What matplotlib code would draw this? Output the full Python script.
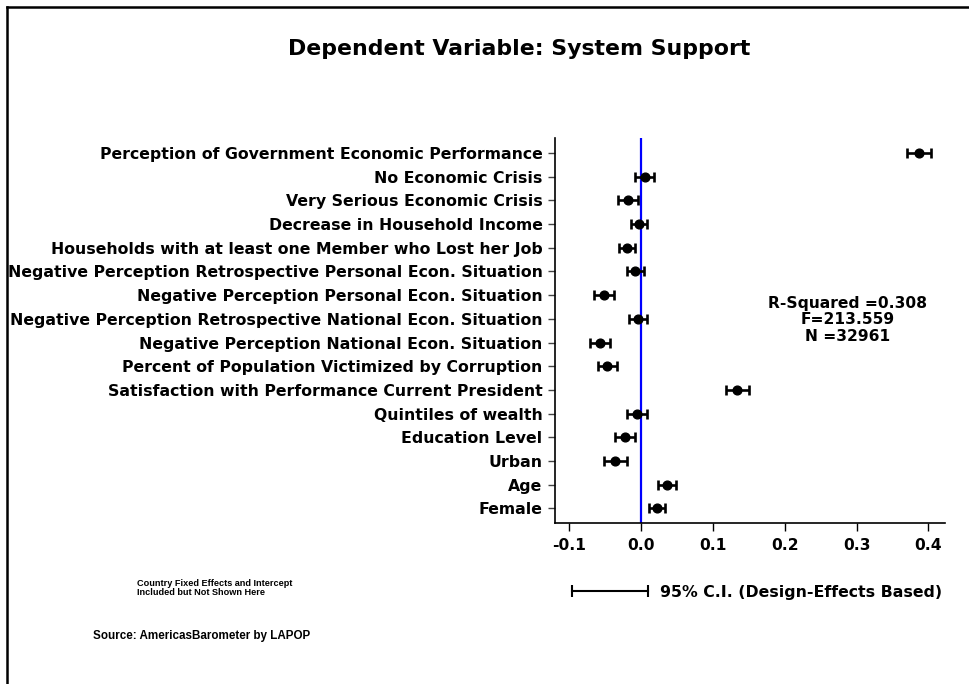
import matplotlib
matplotlib.use("Agg")
import matplotlib.pyplot as plt
from matplotlib.lines import Line2D

# coefficient estimates and 95% CI half-widths, listed top to bottom
labels = [
    "Perception of Government Economic Performance",
    "No Economic Crisis",
    "Very Serious Economic Crisis",
    "Decrease in Household Income",
    "Households with at least one Member who Lost her Job",
    "Negative Perception Retrospective Personal Econ. Situation",
    "Negative Perception Personal Econ. Situation",
    "Negative Perception Retrospective National Econ. Situation",
    "Negative Perception National Econ. Situation",
    "Percent of Population Victimized by Corruption",
    "Satisfaction with Performance Current President",
    "Quintiles of wealth",
    "Education Level",
    "Urban",
    "Age",
    "Female",
]
coef = [0.387, 0.005, -0.019, -0.003, -0.020, -0.008, -0.052, -0.005,
        -0.058, -0.047, 0.134, -0.006, -0.022, -0.036, 0.036, 0.022]
ci = [0.017, 0.013, 0.014, 0.0115, 0.0115, 0.012, 0.014, 0.0125,
      0.014, 0.0127, 0.016, 0.0135, 0.014, 0.016, 0.012, 0.0105]

xticks = [-0.1, 0.0, 0.1, 0.2, 0.3, 0.4]
stats = ["R-Squared =0.308", "F=213.559", "N =32961"]

plt.rcParams["font.family"] = ["DejaVu Sans"]
plt.rcParams["font.weight"] = "bold"
narrow = ["Liberation Sans", "DejaVu Sans"]

fig = plt.figure(figsize=(9.69, 6.84), dpi=100)
ax = fig.add_axes([0.5728, 0.2358, 0.4024, 0.5624])

ypos = list(range(len(labels) - 1, -1, -1))

ax.axvline(0, color="#0000ff", lw=1.6, zorder=1)
ax.errorbar(coef, ypos, xerr=ci, fmt="o", color="black", ms=6.3,
            elinewidth=1.9, capsize=3.8, capthick=1.9, zorder=3)

ax.set_ylim(-0.6, len(labels) - 1 + 0.63)
ax.set_xlim(-0.12, 0.423)
ax.set_yticks(ypos)
ax.set_yticklabels(labels, fontsize=11.35, fontweight="bold")
ax.set_xticks(xticks)
ax.set_xticklabels([f"{t:.1f}" for t in xticks], fontsize=11.2, fontweight="bold")
ax.tick_params(axis="y", length=5, width=1, pad=4, color="#444444")
ax.tick_params(axis="x", length=6, width=1, pad=5)
for s in ["top", "right"]:
    ax.spines[s].set_visible(False)
for s in ["left", "bottom"]:
    ax.spines[s].set_linewidth(1.2)

ax.text(0.751, 0.527, "\n".join(stats), transform=ax.transAxes,
        ha="center", va="center", fontsize=11.2, fontweight="bold",
        linespacing=1.1)

fig.text(0.536, 0.928, "Dependent Variable: System Support",
         ha="center", va="center", fontsize=15.8, fontweight="bold")

# CI legend
fig.add_artist(Line2D([572 / 969, 648 / 969], [1 - 591 / 684] * 2,
                      color="black", lw=1.5, marker="|", ms=8, mew=1.5))
fig.text(660 / 969, 1 - 593 / 684, "95% C.I. (Design-Effects Based)",
         ha="left", va="center", fontsize=11.35, fontweight="bold")

fig.text(137 / 969, 1 - 588 / 684,
         "Country Fixed Effects and Intercept\nIncluded but Not Shown Here",
         ha="left", va="center", fontsize=6.6, fontweight="bold",
         family=narrow, linespacing=1.1)
fig.text(93 / 969, 1 - 636 / 684, "Source: AmericasBarometer by LAPOP",
         ha="left", va="center", fontsize=8.4, fontweight="bold",
         family=narrow)

# frame lines along top and left edge
fig.add_artist(Line2D([7 / 969, 1.0], [1 - 7 / 684] * 2, color="black", lw=1.8))
fig.add_artist(Line2D([7 / 969] * 2, [0.0, 1 - 7 / 684], color="black", lw=1.8))

fig.savefig("out.png", dpi=100, facecolor="white")
